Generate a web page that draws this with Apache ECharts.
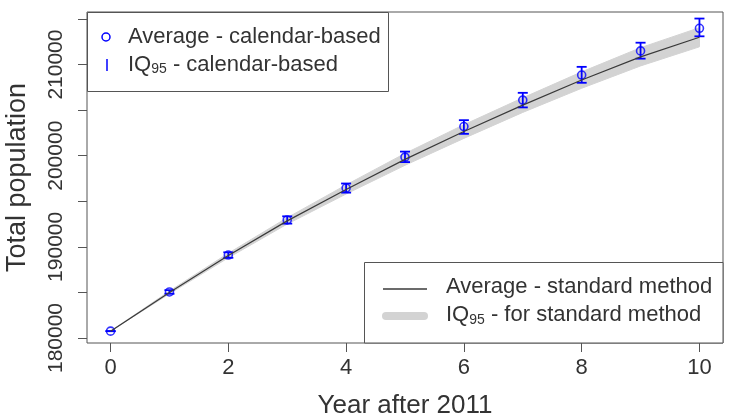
<!DOCTYPE html>
<html>
<head>
<meta charset="utf-8">
<script src="https://cdn.jsdelivr.net/npm/echarts@6/dist/echarts.min.js"></script>
<style>
  html, body { margin: 0; padding: 0; background: #fff; }
  #chart { width: 729px; height: 417px; }
</style>
</head>
<body>
<div id="chart"></div>
<script>
  // years after 2011
  var years = [0, 1, 2, 3, 4, 5, 6, 7, 8, 9, 10];
  // calendar-based: average and IQ95 bounds
  var calAvg  = [180750, 185050, 189100, 192950, 196450, 199850, 203200, 206100, 208850, 211500, 213980];
  var calLow  = [180750, 184850, 188800, 192550, 195950, 199300, 202400, 205300, 208000, 210650, 213100];
  var calHigh = [180750, 185250, 189400, 193350, 196950, 200450, 203900, 206900, 209750, 212400, 215050];
  // standard method: average and IQ95 band
  var stdAvg  = [180750, 185000, 189050, 192850, 196300, 199600, 202650, 205550, 208300, 210850, 213000];
  var stdLow  = [180750, 184850, 188800, 192500, 195800, 198950, 201900, 204750, 207400, 209850, 211950];
  var stdHigh = [180750, 185150, 189300, 193200, 196800, 200250, 203400, 206350, 209200, 211850, 214050];
  // axis ticks
  var xTicks = [0, 2, 4, 6, 8, 10];
  var yTicks = [180000, 185000, 190000, 195000, 200000, 205000, 210000, 215000];
  var yLabels = [180000, 190000, 200000, 210000];

  var font = "'Liberation Sans', Arial, Helvetica, sans-serif";
  var txt = '#333';
  var frame = '#555';

  var chart = echarts.init(document.getElementById('chart'));

  function pairs(vals) {
    return years.map(function (x, i) { return [x, vals[i]]; });
  }

  // one rich text style for the "IQ95" legend lines
  var richIQ = {
    a: { fontSize: 22, fontFamily: font, lineHeight: 24, fill: txt },
    s: { fontSize: 14, fontFamily: font, lineHeight: 14, verticalAlign: 'bottom', fill: txt }
  };

  chart.setOption({
    animation: false,
    textStyle: { fontFamily: font },
    grid: {
      left: 87, right: 6, top: 12, bottom: 74,
      show: true, borderColor: frame, borderWidth: 1,
      containLabel: false, outerBoundsMode: 'none'
    },
    xAxis: {
      type: 'value', min: -0.4, max: 10.4,
      splitLine: { show: false },
      axisLine: { show: false, onZero: false },
      axisTick: { show: true, length: 9, customValues: xTicks, lineStyle: { color: frame } },
      axisLabel: { customValues: xTicks, fontSize: 22, color: txt, margin: 14 },
      name: 'Year after 2011', nameLocation: 'middle', nameGap: 50,
      nameTextStyle: { fontSize: 26, color: txt }
    },
    yAxis: {
      type: 'value', min: 179451, max: 215768,
      splitLine: { show: false },
      axisLine: { show: false, onZero: false },
      axisTick: { show: true, length: 9, customValues: yTicks, lineStyle: { color: frame } },
      axisLabel: {
        customValues: yLabels, rotate: 90, fontSize: 21, color: txt, margin: 20,
        formatter: function (v) { return String(v); }
      },
      name: 'Total population', nameLocation: 'middle', nameGap: 56,
      nameTextStyle: { fontSize: 27, color: txt }
    },
    series: [
      {
        // IQ95 band of the standard method, drawn once as a polygon
        type: 'custom',
        data: years.map(function (x, i) { return [x, stdLow[i], stdHigh[i]]; }),
        encode: { x: 0, y: [1, 2] },
        silent: true,
        renderItem: function (params, api) {
          if (params.dataIndex !== 0) return null;
          var pts = [];
          years.forEach(function (x, i) { pts.push(api.coord([x, stdHigh[i]])); });
          for (var i = years.length - 1; i >= 0; i--) pts.push(api.coord([years[i], stdLow[i]]));
          return { type: 'polygon', shape: { points: pts }, style: { fill: '#d3d3d3', stroke: '#d3d3d3', lineWidth: 1 } };
        }
      },
      {
        type: 'line', data: pairs(stdAvg), symbol: 'none',
        lineStyle: { color: '#3a3a3a', width: 1.2 }
      },
      {
        type: 'custom',
        data: years.map(function (x, i) { return [x, calLow[i], calHigh[i]]; }),
        encode: { x: 0, y: [1, 2] },
        renderItem: function (params, api) {
          var lo = api.coord([api.value(0), api.value(1)]);
          var hi = api.coord([api.value(0), api.value(2)]);
          var st = { stroke: '#0000ff', lineWidth: 1.8 };
          return {
            type: 'group',
            children: [
              { type: 'line', shape: { x1: lo[0], y1: lo[1], x2: hi[0], y2: hi[1] }, style: st },
              { type: 'line', shape: { x1: lo[0] - 5, y1: lo[1], x2: lo[0] + 5, y2: lo[1] }, style: st },
              { type: 'line', shape: { x1: hi[0] - 5, y1: hi[1], x2: hi[0] + 5, y2: hi[1] }, style: st }
            ]
          };
        }
      },
      {
        type: 'scatter', data: pairs(calAvg), symbol: 'circle', symbolSize: 8,
        itemStyle: { color: 'transparent', borderColor: '#0000ff', borderWidth: 1.6 }
      }
    ],
    graphic: [
      // legend: calendar-based
      { type: 'rect', z: 100, shape: { x: 87.5, y: 12.5, width: 301, height: 79 },
        style: { fill: '#fff', stroke: frame, lineWidth: 1 } },
      { type: 'circle', z: 101, shape: { cx: 106, cy: 37, r: 4 },
        style: { fill: 'none', stroke: '#0000ff', lineWidth: 1.5 } },
      { type: 'line', z: 101, shape: { x1: 107, y1: 59, x2: 107, y2: 71 },
        style: { stroke: '#0000ff', lineWidth: 1.5 } },
      { type: 'text', z: 101, x: 128, y: 36.5,
        style: { text: 'Average - calendar-based', font: '22px ' + font, fill: txt, verticalAlign: 'middle' } },
      { type: 'text', z: 101, x: 128, y: 64.5,
        style: { text: '{a|IQ}{s|95}{a| - calendar-based}', verticalAlign: 'middle', fill: txt, rich: richIQ } },
      // legend: standard method
      { type: 'rect', z: 100, shape: { x: 364.5, y: 262.5, width: 358.5, height: 80.5 },
        style: { fill: '#fff', stroke: frame, lineWidth: 1 } },
      { type: 'line', z: 101, shape: { x1: 383, y1: 289, x2: 427, y2: 289 },
        style: { stroke: '#3a3a3a', lineWidth: 1.5 } },
      { type: 'line', z: 101, shape: { x1: 386, y1: 316, x2: 424, y2: 316 },
        style: { stroke: '#d3d3d3', lineWidth: 8, lineCap: 'round' } },
      { type: 'text', z: 101, x: 446, y: 287,
        style: { text: 'Average - standard method', font: '22px ' + font, fill: txt, verticalAlign: 'middle' } },
      { type: 'text', z: 101, x: 446, y: 315,
        style: { text: '{a|IQ}{s|95}{a| - for standard method}', verticalAlign: 'middle', fill: txt, rich: richIQ } }
    ]
  });
</script>
</body>
</html>
